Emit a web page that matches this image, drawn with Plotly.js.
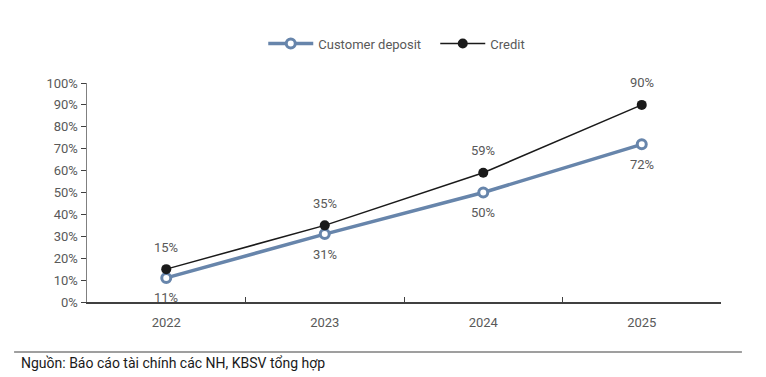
<!DOCTYPE html>
<html><head><meta charset="utf-8">
<script src="https://cdn.plot.ly/plotly-3.0.1.min.js"></script>
<style>html,body{margin:0;padding:0;background:#fff}</style>
</head><body>
<div id="chart" style="width:766px;height:377px"></div>
<script>
const years = ['2022','2023','2024','2025'];
const customerDeposit = [0.11, 0.31, 0.50, 0.72];
const credit = [0.15, 0.35, 0.59, 0.90];
const yTicks = [0,0.1,0.2,0.3,0.4,0.5,0.6,0.7,0.8,0.9,1.0];
const yTickText = ['0%','10%','20%','30%','40%','50%','60%','70%','80%','90%','100%'];
const source = 'Nguồn: Báo cáo tài chính các NH, KBSV tổng hợp';

const fontFam = 'Roboto, "Open Sans", sans-serif';
const pct = v => Math.round(v*100) + '%';

const traces = [
  {x: years, y: customerDeposit, name: 'Customer deposit', type: 'scatter', mode: 'lines+markers',
   line: {color: '#6785ab', width: 3.5},
   marker: {symbol: 'circle', size: 9, color: '#ffffff', line: {color: '#6785ab', width: 3}},
   cliponaxis: false},
  {x: years, y: credit, name: 'Credit', type: 'scatter', mode: 'lines+markers',
   line: {color: '#1a1a1a', width: 1.5},
   marker: {symbol: 'circle', size: 10, color: '#1a1a1a'},
   cliponaxis: false}
];

const labelFont = {size: 13, color: '#595959', family: fontFam};
const annotations = [];
years.forEach((yr, i) => {
  annotations.push({x: i, y: customerDeposit[i], xref: 'x', yref: 'y', text: pct(customerDeposit[i]),
    showarrow: false, yshift: -20, font: labelFont});
  annotations.push({x: i, y: credit[i], xref: 'x', yref: 'y', text: pct(credit[i]),
    showarrow: false, yshift: 22, font: labelFont});
});
annotations.push({text: source, xref: 'paper', yref: 'paper', x: -0.108, y: -0.28,
  xanchor: 'left', yanchor: 'middle', showarrow: false,
  font: {size: 14, color: '#1a1a1a', family: fontFam}});

const layout = {
  width: 766, height: 377,
  margin: {l: 87, r: 45, t: 83, b: 75},
  paper_bgcolor: '#fff', plot_bgcolor: '#fff',
  font: {family: fontFam, color: '#595959', size: 13},
  showlegend: true,
  legend: {orientation: 'h', x: 0.278, xanchor: 'left', y: 1.18, yanchor: 'middle',
           font: {size: 13, color: '#595959', family: fontFam}, itemwidth: 45,
           entrywidth: 112, entrywidthmode: 'pixels'},
  xaxis: {type: 'category', range: [-0.5, 3.5], showgrid: false, zeroline: false,
          showline: true, linecolor: '#404040', linewidth: 1.5,
          ticks: 'inside', tickson: 'boundaries', ticklen: 5, tickcolor: '#404040',
          tickfont: {size: 13, color: '#595959'}, ticklabelstandoff: 8},
  yaxis: {range: [0, 1.0], tickvals: yTicks, ticktext: yTickText, showgrid: false, zeroline: false,
          showline: true, linecolor: '#808080', linewidth: 1.5,
          ticks: 'outside', ticklen: 5, tickcolor: '#404040',
          tickfont: {size: 13, color: '#595959'}},
  shapes: [{type: 'line', xref: 'paper', yref: 'paper', x0: -0.115, x1: 1.033, y0: -0.228, y1: -0.228,
            line: {color: '#7f7f7f', width: 1.5}}],
  annotations: annotations
};
Plotly.newPlot('chart', traces, layout, {displayModeBar: false, staticPlot: true});
</script>
</body></html>
